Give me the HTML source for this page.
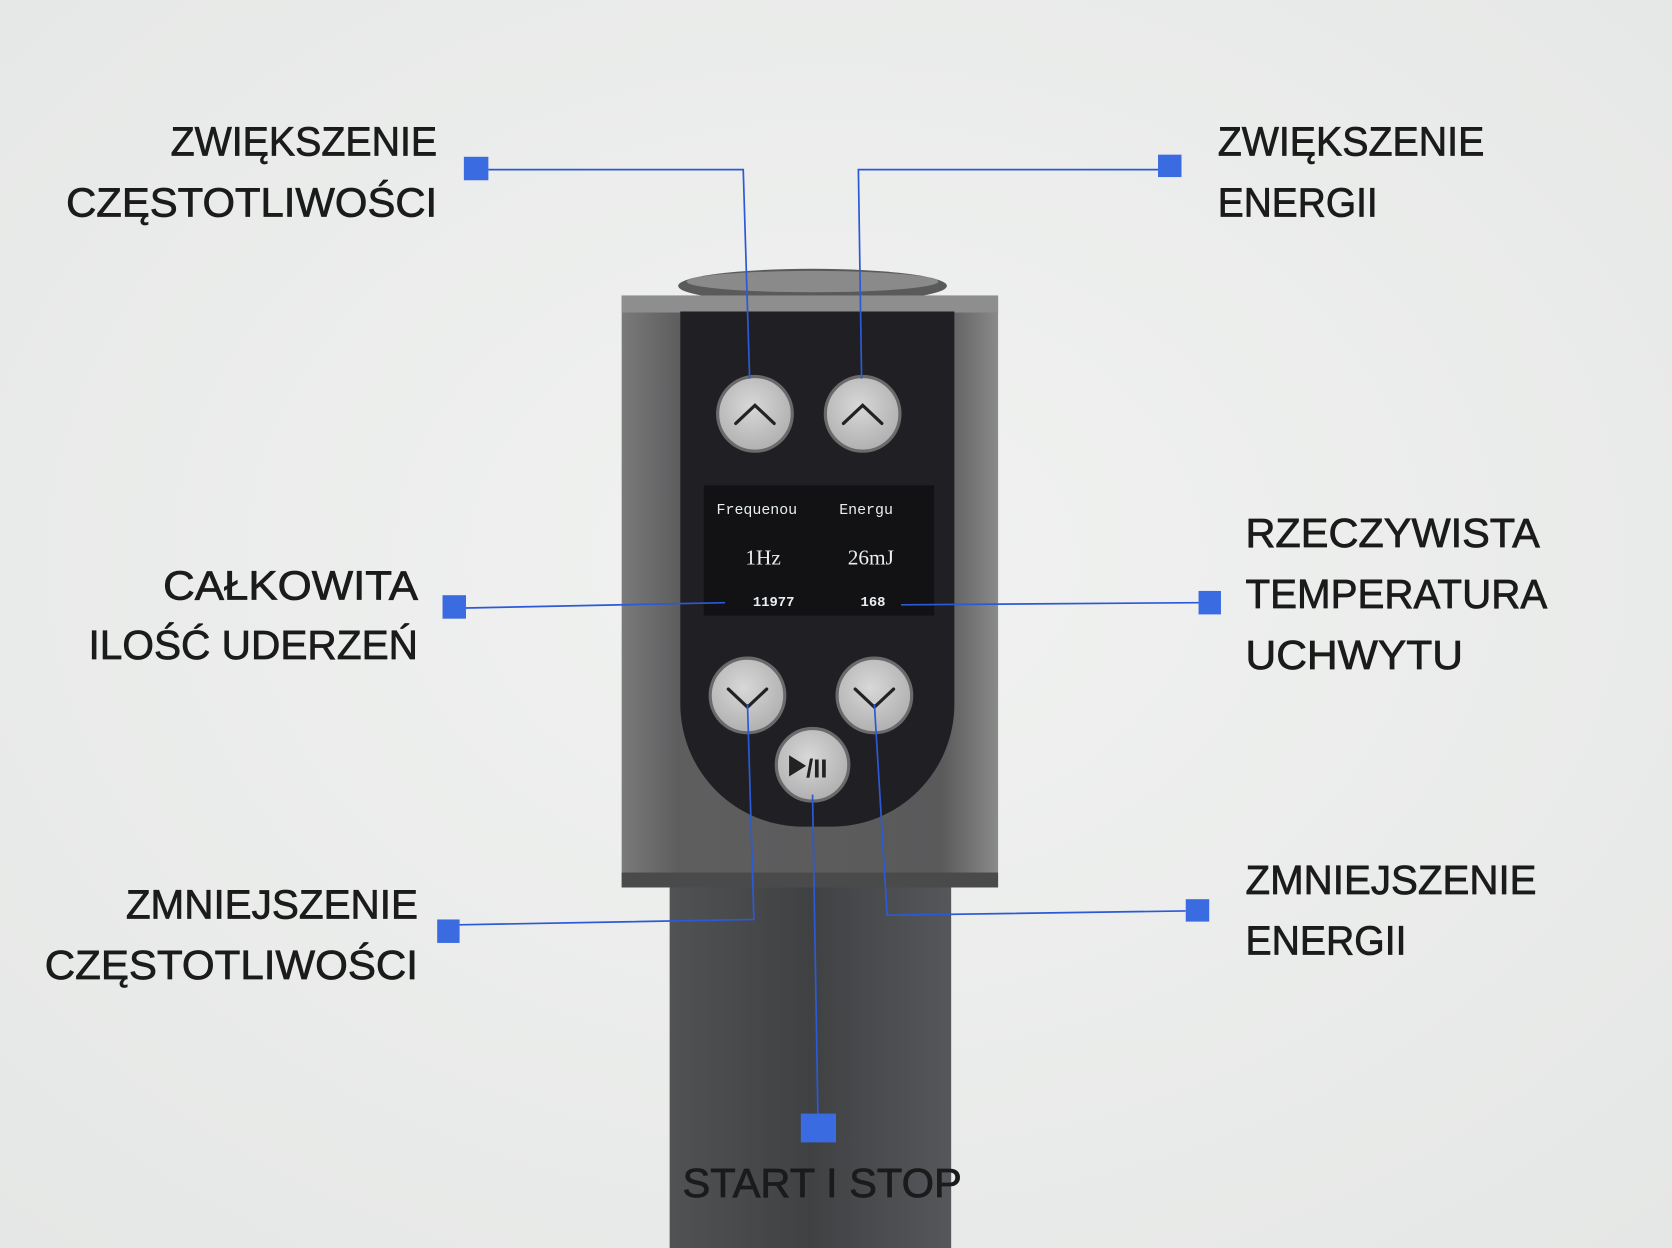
<!DOCTYPE html>
<html><head><meta charset="utf-8">
<style>
html,body{margin:0;padding:0;width:1672px;height:1248px;overflow:hidden;background:#eceeed;}
svg{display:block}
.l{font-family:"Liberation Sans",sans-serif;font-size:38px;fill:#1b1b1b;stroke:#1b1b1b;stroke-width:0.7;}
</style></head><body>
<svg width="1672" height="1248" viewBox="0 0 1568 1170" preserveAspectRatio="none" xmlns="http://www.w3.org/2000/svg">
<defs>
<radialGradient id="bg" cx="0.5" cy="0.45" r="0.8">
<stop offset="0" stop-color="#f1f2f1"/><stop offset="1" stop-color="#e4e6e5"/></radialGradient>
<linearGradient id="body" x1="0" x2="1">
<stop offset="0" stop-color="#7a7a7a"/><stop offset="0.15" stop-color="#5e5e5f"/><stop offset="0.85" stop-color="#5a5a5b"/><stop offset="1" stop-color="#8a8a8a"/></linearGradient>
<linearGradient id="pole" x1="0" x2="1">
<stop offset="0" stop-color="#505254"/><stop offset="0.5" stop-color="#3f4143"/><stop offset="1" stop-color="#55575a"/></linearGradient>
<radialGradient id="btn" cx="0.45" cy="0.4" r="0.6">
<stop offset="0" stop-color="#d8d8d8"/><stop offset="1" stop-color="#b0b0b0"/></radialGradient>
</defs>
<rect width="1568" height="1170" fill="url(#bg)"/>
<rect x="628" y="820" width="264" height="350" fill="url(#pole)"/>
<ellipse cx="762" cy="268" rx="126" ry="16" fill="#5a5a5a"/>
<ellipse cx="762" cy="264" rx="118" ry="10" fill="#8a8a8a"/>
<rect x="583" y="277" width="353" height="555" fill="url(#body)"/>
<rect x="583" y="277" width="353" height="16" fill="#8e8e8e"/>
<rect x="583" y="818" width="353" height="14" fill="#4a4a4a"/>
<path d="M638 292 H895 V660 A115 115 0 0 1 780 775 H753 A115 115 0 0 1 638 660 Z" fill="#1f1f24"/>
<rect x="660" y="455" width="216" height="122" fill="#121214"/>
<g font-family="Liberation Mono,monospace" fill="#e8eef2">
<text x="672" y="482" font-size="14">Frequenou</text>
<text x="787" y="482" font-size="14">Energu</text>
<text x="699" y="529" font-size="20" font-family="Liberation Serif,serif">1Hz</text>
<text x="795" y="529" font-size="20" font-family="Liberation Serif,serif">26mJ</text>
<text x="706" y="568" font-size="13" font-weight="bold">11977</text>
<text x="807" y="568" font-size="13" font-weight="bold">168</text>
</g>
<g stroke="#6a6a6a" stroke-width="3" fill="url(#btn)">
<circle cx="708" cy="388" r="35"/>
<circle cx="809" cy="388" r="35"/>
<circle cx="701" cy="652" r="35"/>
<circle cx="820" cy="652" r="35"/>
<circle cx="762" cy="717" r="34"/>
</g>
<g stroke="#222" stroke-width="3" fill="none" stroke-linecap="round">
<path d="M690 397 L708 380 L726 397"/>
<path d="M791 397 L809 380 L827 397"/>
<path d="M683 646 L701 663 L719 646"/>
<path d="M802 646 L820 663 L838 646"/>
</g>
<path d="M740 708 L740 728 L756 718 Z" fill="#222"/>
<text x="756" y="729" font-family="Liberation Sans,sans-serif" font-size="24" font-weight="bold" fill="#222">/II</text>
<g stroke="#2c5ad6" stroke-width="1.6" fill="none">
<path d="M458 159 H697 L703 355"/>
<path d="M1086 159 H805 L808 355"/>
<path d="M437 570 L680 565"/>
<path d="M845 567 L1124 565"/>
<path d="M431 867 L707 862 L701 660"/>
<path d="M1112 854 L832 858 L820 660"/>
<path d="M762 745 L767 1044"/>
</g>
<g fill="#3a6be0">
<rect x="435" y="147" width="23" height="22"/>
<rect x="1086" y="145" width="22" height="21"/>
<rect x="415" y="558" width="22" height="22"/>
<rect x="1124" y="554" width="21" height="22"/>
<rect x="410" y="862" width="21" height="22"/>
<rect x="1112" y="843" width="22" height="21"/>
<rect x="751" y="1044" width="33" height="27"/>
</g>
<g class="l">
<text x="160" y="146" textLength="250" lengthAdjust="spacingAndGlyphs">ZWIĘKSZENIE</text>
<text x="62" y="203" textLength="348" lengthAdjust="spacingAndGlyphs">CZĘSTOTLIWOŚCI</text>
<text x="1142" y="146" textLength="250" lengthAdjust="spacingAndGlyphs">ZWIĘKSZENIE</text>
<text x="1142" y="203" textLength="150" lengthAdjust="spacingAndGlyphs">ENERGII</text>
<text x="153" y="562" textLength="239" lengthAdjust="spacingAndGlyphs">CAŁKOWITA</text>
<text x="83" y="618" textLength="309" lengthAdjust="spacingAndGlyphs">ILOŚĆ UDERZEŃ</text>
<text x="1168" y="513" textLength="276" lengthAdjust="spacingAndGlyphs">RZECZYWISTA</text>
<text x="1168" y="570" textLength="283" lengthAdjust="spacingAndGlyphs">TEMPERATURA</text>
<text x="1168" y="627" textLength="204" lengthAdjust="spacingAndGlyphs">UCHWYTU</text>
<text x="118" y="861" textLength="274" lengthAdjust="spacingAndGlyphs">ZMNIEJSZENIE</text>
<text x="42" y="918" textLength="350" lengthAdjust="spacingAndGlyphs">CZĘSTOTLIWOŚCI</text>
<text x="1168" y="838" textLength="273" lengthAdjust="spacingAndGlyphs">ZMNIEJSZENIE</text>
<text x="1168" y="895" textLength="151" lengthAdjust="spacingAndGlyphs">ENERGII</text>
<text x="640" y="1122" textLength="262" lengthAdjust="spacingAndGlyphs">START I STOP</text>
</g>
</svg>
</body></html>
